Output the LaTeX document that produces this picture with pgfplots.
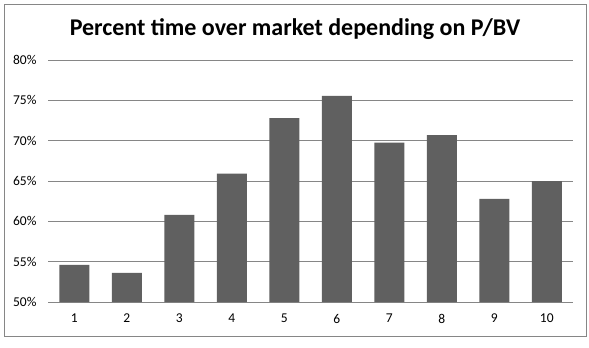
\documentclass[border=0pt]{standalone}
\usepackage{fontspec}
\setmainfont{Carlito}
\usepackage{pgfplots}
\pgfplotsset{compat=1.18}
\definecolor{barc}{HTML}{606060}
\definecolor{gridc}{HTML}{868686}
\begin{document}
\begin{tikzpicture}[x=1bp,y=1bp]
\path (0,0) rectangle (589,347);
\draw[gridc, line width=0.8bp] (4,10.3) rectangle (586,343);
\node[font=\fontsize{24bp}{28bp}\selectfont\bfseries] at (295,318) {Percent time over market depending on P/BV};
\begin{axis}[
  at={(48bp,45bp)}, anchor=south west,
  scale only axis, width=525bp, height=242bp,
  xmin=0.5, xmax=10.5, ymin=50, ymax=80,
  axis line style={draw=none},
  ytick={50,55,...,80},
  xtick={1,...,10},
  major tick length=0pt,
  ymajorgrids, grid style={gridc, line width=0.8bp},
  /pgf/number format/assume math mode=true,
  yticklabel={\pgfmathprintnumber{\tick}\%},
  ticklabel style={font=\fontsize{13.5bp}{16bp}\selectfont},
  yticklabel style={xshift=-8bp},
  xticklabel style={yshift=-8.5bp},
  ybar, bar width=30bp,
  clip=false,
]
\addplot[fill=barc, draw=none] coordinates {
(1,54.6) (2,53.6) (3,60.8) (4,65.9) (5,72.8) (6,75.55) (7,69.75) (8,70.7) (9,62.8) (10,65.0)
};
\end{axis}
\end{tikzpicture}
\end{document}
